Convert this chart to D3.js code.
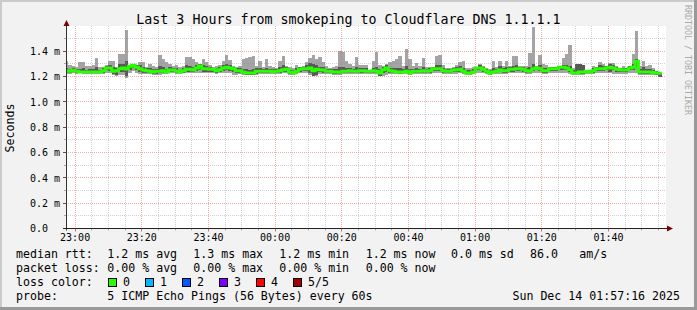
<!DOCTYPE html>
<html>
<head>
<meta charset="utf-8">
<script src="https://cdn.jsdelivr.net/npm/d3@7"></script>
<style>
  body { margin: 0; background: #f2f2f2; }
  text { font-family: "DejaVu Sans Mono", monospace; fill: #000; }
</style>
</head>
<body>
<svg id="chart" width="697" height="310"></svg>
<script>
// time window of the graph (last 3 hours), one sample per minute
const sampleStart = new Date(2025, 11, 13, 22, 57, 0);
const viewStart = new Date(2025, 11, 13, 22, 57, 16);
const viewEnd = new Date(2025, 11, 14, 1, 57, 16);

// ping times in ms
const medianRtt = [
  1.247,1.242,1.250,1.242,1.237,1.237,1.237,1.237,1.237,1.237,
  1.237,1.247,1.268,1.268,1.242,1.247,1.263,1.268,1.261,1.282,
  1.289,1.274,1.263,1.253,1.247,1.242,1.237,1.242,1.242,1.247,
  1.237,1.253,1.253,1.242,1.237,1.247,1.258,1.258,1.253,1.268,
  1.284,1.263,1.263,1.258,1.258,1.247,1.255,1.268,1.274,1.268,
  1.263,1.247,1.247,1.234,1.229,1.229,1.229,1.242,1.242,1.242,
  1.242,1.242,1.237,1.242,1.247,1.255,1.258,1.234,1.229,1.242,
  1.258,1.263,1.263,1.268,1.247,1.258,1.255,1.253,1.242,1.242,
  1.237,1.237,1.234,1.242,1.242,1.247,1.242,1.242,1.247,1.247,
  1.242,1.242,1.247,1.242,1.229,1.255,1.268,1.247,1.242,1.237,
  1.234,1.237,1.242,1.229,1.242,1.242,1.242,1.247,1.242,1.247,
  1.263,1.263,1.263,1.247,1.242,1.242,1.253,1.255,1.258,1.242,
  1.229,1.229,1.237,1.268,1.268,1.258,1.242,1.229,1.237,1.242,
  1.253,1.247,1.247,1.258,1.258,1.263,1.263,1.258,1.247,1.242,
  1.263,1.268,1.263,1.247,1.247,1.263,1.263,1.263,1.274,1.274,
  1.268,1.255,1.229,1.229,1.237,1.237,1.242,1.237,1.247,1.263,
  1.263,1.263,1.268,1.274,1.268,1.258,1.255,1.253,1.253,1.268,
  1.274,1.321,1.237,1.237,1.237,1.237,1.232,1.229,1.226
];
const maxRtt = [
  1.326,1.289,1.282,1.276,1.316,1.316,1.282,1.284,1.289,1.347,
  1.279,1.274,1.295,1.326,1.326,1.279,1.379,1.379,1.571,1.289,
  1.295,1.289,1.316,1.316,1.274,1.300,1.282,1.279,1.368,1.339,
  1.313,1.300,1.282,1.289,1.274,1.282,1.353,1.353,1.339,1.316,
  1.300,1.342,1.316,1.289,1.274,1.282,1.295,1.326,1.374,1.334,
  1.282,1.276,1.282,1.342,1.347,1.358,1.366,1.282,1.326,1.279,
  1.339,1.282,1.279,1.268,1.326,1.366,1.282,1.274,1.268,1.295,
  1.279,1.282,1.316,1.347,1.368,1.339,1.353,1.316,1.282,1.268,
  1.274,1.282,1.400,1.395,1.326,1.300,1.282,1.353,1.295,1.295,
  1.295,1.255,1.321,1.392,1.295,1.282,1.300,1.316,1.321,1.339,
  1.366,1.282,1.421,1.342,1.282,1.308,1.282,1.347,1.274,1.274,
  1.274,1.366,1.368,1.295,1.268,1.268,1.274,1.295,1.313,1.321,
  1.268,1.268,1.274,1.279,1.300,1.282,1.268,1.263,1.321,1.274,
  1.321,1.282,1.326,1.282,1.361,1.361,1.282,1.282,1.282,1.387,
  1.589,1.282,1.368,1.300,1.289,1.274,1.274,1.274,1.282,1.347,
  1.379,1.447,1.268,1.300,1.300,1.295,1.255,1.255,1.282,1.274,
  1.313,1.300,1.282,1.308,1.308,1.282,1.268,1.282,1.268,1.282,
  1.379,1.563,1.282,1.326,1.282,1.289,1.268,1.242,1.229
];
const minRtt = [
  1.221,1.224,1.226,1.221,1.226,1.224,1.224,1.224,1.221,1.221,
  1.224,1.221,1.229,1.229,1.211,1.203,1.216,1.211,1.189,1.229,
  1.242,1.229,1.221,1.221,1.221,1.221,1.216,1.211,1.216,1.221,
  1.221,1.226,1.226,1.221,1.221,1.226,1.226,1.226,1.226,1.226,
  1.229,1.226,1.226,1.226,1.226,1.224,1.226,1.229,1.229,1.226,
  1.216,1.216,1.221,1.216,1.211,1.211,1.211,1.216,1.221,1.221,
  1.221,1.221,1.221,1.221,1.221,1.226,1.226,1.216,1.216,1.221,
  1.226,1.229,1.229,1.211,1.203,1.203,1.221,1.221,1.221,1.221,
  1.216,1.216,1.216,1.221,1.221,1.221,1.221,1.221,1.224,1.224,
  1.224,1.224,1.224,1.221,1.203,1.203,1.211,1.221,1.221,1.221,
  1.221,1.221,1.221,1.216,1.221,1.221,1.221,1.224,1.224,1.224,
  1.229,1.229,1.229,1.224,1.221,1.221,1.224,1.224,1.226,1.221,
  1.216,1.216,1.221,1.229,1.229,1.226,1.221,1.216,1.221,1.221,
  1.224,1.224,1.224,1.226,1.226,1.226,1.226,1.226,1.221,1.221,
  1.226,1.229,1.226,1.221,1.221,1.226,1.226,1.226,1.229,1.229,
  1.226,1.221,1.216,1.216,1.216,1.216,1.221,1.221,1.221,1.226,
  1.226,1.226,1.226,1.226,1.221,1.221,1.221,1.221,1.221,1.226,
  1.226,1.226,1.216,1.216,1.216,1.216,1.216,1.211,1.195
];
// 2nd and 4th of the 5 sorted pings (dark smoke)
const innerHi = [
  1.272,1.262,1.268,1.262,1.262,1.265,1.255,1.258,1.262,1.275,
  1.255,1.265,1.285,1.295,1.280,1.265,1.300,1.300,1.320,1.289,
  1.295,1.289,1.290,1.280,1.265,1.270,1.258,1.262,1.285,1.275,
  1.262,1.275,1.270,1.265,1.255,1.268,1.290,1.285,1.280,1.290,
  1.298,1.290,1.285,1.275,1.270,1.265,1.278,1.295,1.300,1.290,
  1.280,1.265,1.268,1.262,1.258,1.255,1.260,1.265,1.272,1.262,
  1.272,1.262,1.258,1.258,1.275,1.290,1.275,1.255,1.250,1.268,
  1.275,1.280,1.290,1.305,1.300,1.295,1.280,1.275,1.262,1.258,
  1.258,1.260,1.275,1.280,1.270,1.270,1.262,1.275,1.268,1.266,
  1.265,1.255,1.272,1.280,1.262,1.275,1.290,1.272,1.268,1.265,
  1.270,1.258,1.285,1.262,1.262,1.270,1.262,1.275,1.262,1.265,
  1.274,1.295,1.290,1.270,1.262,1.260,1.270,1.280,1.285,1.270,
  1.250,1.252,1.260,1.279,1.288,1.275,1.262,1.250,1.270,1.262,
  1.285,1.268,1.275,1.275,1.285,1.290,1.278,1.275,1.268,1.275,
  1.300,1.280,1.290,1.270,1.265,1.274,1.274,1.274,1.282,1.295,
  1.295,1.285,1.250,1.300,1.300,1.295,1.255,1.252,1.268,1.274,
  1.288,1.285,1.282,1.300,1.290,1.275,1.268,1.272,1.265,1.282,
  1.300,1.340,1.262,1.275,1.260,1.262,1.255,1.242,1.229
];
const innerLo = [
  1.230,1.230,1.234,1.228,1.228,1.228,1.228,1.228,1.226,1.226,
  1.228,1.230,1.250,1.248,1.220,1.215,1.235,1.235,1.205,1.255,
  1.265,1.250,1.240,1.232,1.230,1.228,1.222,1.222,1.226,1.230,
  1.226,1.235,1.235,1.228,1.226,1.232,1.238,1.240,1.235,1.245,
  1.255,1.240,1.240,1.235,1.236,1.230,1.235,1.245,1.250,1.245,
  1.235,1.225,1.228,1.220,1.214,1.215,1.214,1.222,1.226,1.226,
  1.226,1.228,1.225,1.228,1.230,1.236,1.240,1.220,1.220,1.228,
  1.238,1.245,1.245,1.230,1.208,1.210,1.235,1.232,1.226,1.226,
  1.222,1.222,1.220,1.228,1.228,1.230,1.228,1.228,1.232,1.232,
  1.230,1.230,1.232,1.228,1.208,1.225,1.240,1.230,1.228,1.226,
  1.224,1.226,1.228,1.218,1.228,1.228,1.228,1.232,1.230,1.232,
  1.245,1.245,1.245,1.232,1.228,1.228,1.235,1.238,1.240,1.228,
  1.220,1.220,1.225,1.250,1.250,1.240,1.228,1.218,1.226,1.228,
  1.235,1.232,1.232,1.240,1.240,1.245,1.245,1.240,1.230,1.228,
  1.242,1.250,1.245,1.230,1.230,1.245,1.245,1.245,1.255,1.255,
  1.250,1.235,1.218,1.218,1.220,1.220,1.228,1.225,1.232,1.245,
  1.245,1.245,1.250,1.238,1.250,1.238,1.236,1.236,1.236,1.250,
  1.255,1.280,1.222,1.222,1.222,1.222,1.220,1.215,1.200
];

const yMajorTicks = [0.2, 0.4, 0.6, 0.8, 1.0, 1.2, 1.4];
const yTickLabels = ["0.0", "0.2 m", "0.4 m", "0.6 m", "0.8 m", "1.0 m", "1.2 m", "1.4 m"];
const yTickValues = [0, 0.2, 0.4, 0.6, 0.8, 1.0, 1.2, 1.4];

const titleText = "Last 3 Hours from smokeping to Cloudflare DNS 1.1.1.1";
const legendRtt = ["median rtt:", "1.2 ms avg", "1.3 ms max", "1.2 ms min", "1.2 ms now", "0.0 ms sd", "86.0", "am/s"];
const legendLoss = ["packet loss:", "0.00 % avg", "0.00 % max", "0.00 % min", "0.00 % now"];
const lossLabels = ["0", "1", "2", "3", "4", "5/5"];
const lossColors = ["#26ff00", "#00b8ff", "#0059ff", "#7e00ff", "#ff0000", "#a10000"];
const probeText = ["probe:", "5 ICMP Echo Pings (56 Bytes) every 60s"];
const dateText = "Sun Dec 14 01:57:16 2025";

const samples = medianRtt.map((m, i) => ({
    t0: d3.timeMinute.offset(sampleStart, i),
    t1: d3.timeMinute.offset(sampleStart, i + 1),
    med: m, max: maxRtt[i], min: minRtt[i], hi: innerHi[i], lo: innerLo[i]
}));

const svg = d3.select("#chart");
const W = 697, H = 310;
const plotLeft = 66, plotRight = 666, plotTop = 26, plotBottom = 228.5;

// background and 3d frame
svg.append("rect").attr("width", W).attr("height", H).attr("fill", "#f2f2f2");
svg.append("path").attr("d", `M0,0H${W}V2H2V${H}H0Z`).attr("fill", "#cbcbcb");
svg.append("path").attr("d", `M${W},0V${H}H0V${H-3}H${W-3}V0Z`).attr("fill", "#999999");

const x = d3.scaleTime().domain([viewStart, viewEnd]).range([plotLeft, plotRight]);
const y = d3.scaleLinear().domain([0, 1.6]).range([plotBottom, plotTop]);

svg.append("rect")
    .attr("x", plotLeft).attr("y", plotTop)
    .attr("width", plotRight - plotLeft).attr("height", plotBottom - plotTop)
    .attr("fill", "#ffffff");

svg.append("clipPath").attr("id", "plotclip")
    .append("rect").attr("x", plotLeft).attr("y", plotTop)
    .attr("width", plotRight - plotLeft).attr("height", plotBottom - plotTop);

const plot = svg.append("g").attr("clip-path", "url(#plotclip)");

// smoke: outer range light, inner range dark
plot.selectAll("rect.outer").data(samples).enter().append("rect")
    .attr("class", "outer")
    .attr("x", d => x(d.t0))
    .attr("width", d => x(d.t1) - x(d.t0))
    .attr("y", d => y(d.max))
    .attr("height", d => y(d.min) - y(d.max))
    .attr("fill", "#a4a4a4")
    .attr("shape-rendering", "crispEdges");

plot.selectAll("rect.inner").data(samples).enter().append("rect")
    .attr("class", "inner")
    .attr("x", d => x(d.t0))
    .attr("width", d => x(d.t1) - x(d.t0))
    .attr("y", d => y(d.hi))
    .attr("height", d => y(d.lo) - y(d.hi))
    .attr("fill", "#585858")
    .attr("shape-rendering", "crispEdges");

// median line (loss colour 0)
const linePts = samples.map(d => [d.t0, d.med]);
linePts.push([samples[samples.length - 1].t1, samples[samples.length - 1].med]);
plot.append("path")
    .datum(linePts)
    .attr("fill", "none")
    .attr("stroke", lossColors[0])
    .attr("stroke-width", 3)
    .attr("d", d3.line().x(d => x(d[0])).y(d => y(d[1])).curve(d3.curveStepAfter));

// grid on top of the data
const minorY = y.ticks(16).filter(v => v > 0 && Math.round(v * 10) % 2 === 1);
const gMinor = "rgba(140,140,140,0.4)", gMajor = "rgba(225,90,90,0.5)";
const px = v => Math.floor(v) + 0.5;

minorY.forEach(v => {
    svg.append("line").attr("x1", plotLeft).attr("x2", plotRight)
        .attr("y1", px(y(v))).attr("y2", px(y(v)))
        .attr("stroke", gMinor).attr("stroke-dasharray", "1,1");
    svg.append("line").attr("x1", plotLeft - 2).attr("x2", plotLeft)
        .attr("y1", px(y(v))).attr("y2", px(y(v))).attr("stroke", "#aaa");
});
yMajorTicks.forEach(v => {
    svg.append("line").attr("x1", plotLeft).attr("x2", plotRight)
        .attr("y1", px(y(v))).attr("y2", px(y(v)))
        .attr("stroke", gMajor).attr("stroke-dasharray", "1,1");
    svg.append("line").attr("x1", plotLeft - 3).attr("x2", plotLeft)
        .attr("y1", px(y(v))).attr("y2", px(y(v))).attr("stroke", "#555");
});

const xTimes = d3.timeMinute.every(5).range(viewStart, viewEnd);
xTimes.forEach(t => {
    const major = t.getMinutes() % 20 === 0;
    svg.append("line").attr("x1", px(x(t))).attr("x2", px(x(t)))
        .attr("y1", plotTop).attr("y2", plotBottom)
        .attr("stroke", major ? gMajor : gMinor).attr("stroke-dasharray", "1,1");
    svg.append("line").attr("x1", px(x(t))).attr("x2", px(x(t)))
        .attr("y1", plotBottom).attr("y2", plotBottom + (major ? 3 : 2))
        .attr("stroke", major ? "#d07070" : "#aaa");
    if (major) {
        svg.append("text")
            .attr("x", x(t)).attr("y", 241)
            .attr("text-anchor", "middle")
            .attr("font-size", "10px")
            .text(d3.timeFormat("%H:%M")(t));
    }
});

// axes with arrows
svg.append("line").attr("x1", px(plotLeft)).attr("x2", px(plotLeft))
    .attr("y1", plotBottom + 2).attr("y2", plotTop - 3)
    .attr("stroke", "#333");
svg.append("line").attr("x1", plotLeft - 3).attr("x2", plotRight + 2)
    .attr("y1", plotBottom).attr("y2", plotBottom)
    .attr("stroke", "#222");
svg.append("path").attr("d", `M${plotLeft + 0.5},${plotTop - 6}L${plotLeft + 3.5},${plotTop}L${plotLeft - 2.5},${plotTop}Z`)
    .attr("fill", "#7f0000");
svg.append("path").attr("d", `M${plotRight + 7},${plotBottom}L${plotRight + 1},${plotBottom - 3}L${plotRight + 1},${plotBottom + 3}Z`)
    .attr("fill", "#7f0000");

yTickValues.forEach((v, i) => {
    svg.append("text")
        .attr("x", 30).attr("y", y(v) + 3.7)
        .attr("font-size", "10px")
        .text(yTickLabels[i]);
});

// title, axis label, watermark
svg.append("text")
    .attr("x", W / 2).attr("y", 24)
    .attr("text-anchor", "middle")
    .attr("font-size", "13.3px")
    .text(titleText);

svg.append("text")
    .attr("transform", "translate(14,128) rotate(-90)")
    .attr("text-anchor", "middle")
    .attr("font-size", "11.6px")
    .text("Seconds");

svg.append("text")
    .attr("transform", "translate(685,5) rotate(90)")
    .attr("font-size", "8.3px")
    .style("fill", "#aaaaaa")
    .text("RRDTOOL / TOBI OETIKER");

// legend
const legendFont = "11.6px";
const rttX = [16, 107.3, 193.3, 279.3, 365.7, 451, 530, 579.3];
legendRtt.forEach((s, i) => {
    svg.append("text").attr("x", rttX[i]).attr("y", 258.3)
        .attr("font-size", legendFont).text(s);
});
legendLoss.forEach((s, i) => {
    svg.append("text").attr("x", rttX[i]).attr("y", 272.2)
        .attr("font-size", legendFont).text(s);
});
svg.append("text").attr("x", 16).attr("y", 286.2)
    .attr("font-size", legendFont).text("loss color:");
const boxX = [108.5, 145.5, 182.5, 219.5, 256.5, 293.5];
lossLabels.forEach((s, i) => {
    svg.append("rect").attr("x", boxX[i]).attr("y", 278.5)
        .attr("width", 8).attr("height", 8)
        .attr("fill", lossColors[i]).attr("stroke", "#000");
    svg.append("text").attr("x", boxX[i] + 14.5).attr("y", 286.2)
        .attr("font-size", legendFont).text(s);
});
svg.append("text").attr("x", 16).attr("y", 300.2)
    .attr("font-size", legendFont).text(probeText[0]);
svg.append("text").attr("x", 107.3).attr("y", 300.2)
    .attr("font-size", legendFont).text(probeText[1]);
svg.append("text").attr("x", 680).attr("y", 300.2)
    .attr("text-anchor", "end")
    .attr("font-size", legendFont).text(dateText);
</script>
</body>
</html>
